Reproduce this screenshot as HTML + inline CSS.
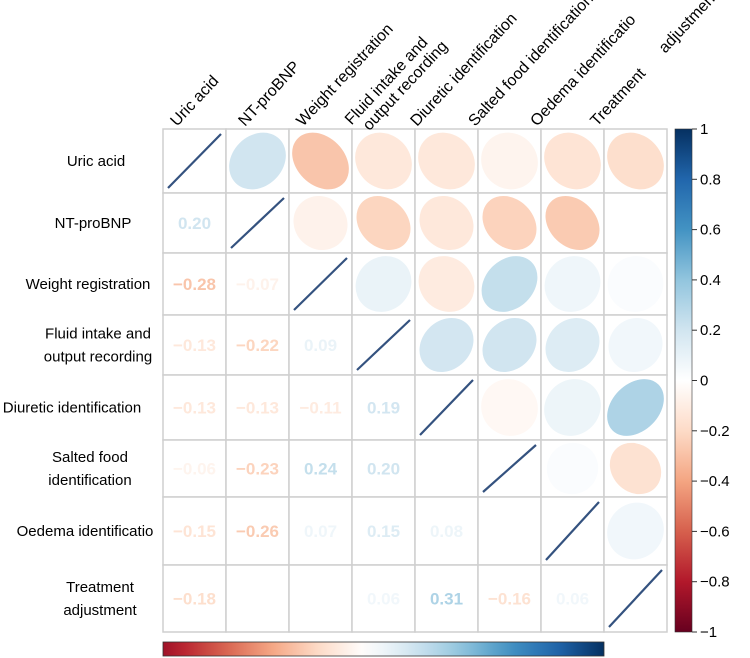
<!DOCTYPE html>
<html><head><meta charset="utf-8"><style>
html,body{margin:0;padding:0;background:#fff;}
svg{display:block;font-family:"Liberation Sans",Arial,sans-serif;}
</style></head><body>
<svg id="chart" width="750" height="658" viewBox="0 0 750 658"></svg>
<script>
const variables = ["Uric acid","NT-proBNP","Weight registration","Fluid intake and output recording","Diuretic identification","Salted food identification","Oedema identificatio","Treatment adjustment"];
// full symmetric correlation values (row i, col j)
const corrRow0 = [1, 0.20, -0.28, -0.13, -0.13, -0.06, -0.15, -0.18];
const corrRow1 = [0.20, 1, -0.07, -0.22, -0.13, -0.23, -0.26, 0.00];
const corrRow2 = [-0.28, -0.07, 1, 0.09, -0.11, 0.24, 0.07, 0.02];
const corrRow3 = [-0.13, -0.22, 0.09, 1, 0.19, 0.20, 0.15, 0.06];
const corrRow4 = [-0.13, -0.13, -0.11, 0.19, 1, -0.04, 0.08, 0.31];
const corrRow5 = [-0.06, -0.23, 0.24, 0.20, -0.04, 1, 0.02, -0.16];
const corrRow6 = [-0.15, -0.26, 0.07, 0.15, 0.08, 0.02, 1, 0.06];
const corrRow7 = [-0.18, 0.00, 0.02, 0.06, 0.31, -0.16, 0.06, 1];
const corr = [corrRow0,corrRow1,corrRow2,corrRow3,corrRow4,corrRow5,corrRow6,corrRow7];
// lower-triangle printed labels (null = blank)
const labelRow1 = ["0.20"];
const labelRow2 = ["−0.28","−0.07"];
const labelRow3 = ["−0.13","−0.22","0.09"];
const labelRow4 = ["−0.13","−0.13","−0.11","0.19"];
const labelRow5 = ["−0.06","−0.23","0.24","0.20",null];
const labelRow6 = ["−0.15","−0.26","0.07","0.15","0.08",null];
const labelRow7 = ["−0.18",null,null,"0.06","0.31","−0.16","0.06"];
const labels = [[],labelRow1,labelRow2,labelRow3,labelRow4,labelRow5,labelRow6,labelRow7];
const colorTicks = ["1","0.8","0.6","0.4","0.2","0","−0.2","−0.4","−0.6","−0.8","−1"];
const colorTickValues = [1,0.8,0.6,0.4,0.2,0,-0.2,-0.4,-0.6,-0.8,-1];

const NS="http://www.w3.org/2000/svg";
const svg=document.getElementById('chart');
function mk(tag,attrs,parent){const e=document.createElementNS(NS,tag);for(const k in attrs)e.setAttribute(k,attrs[k]);(parent||svg).appendChild(e);return e;}

const stops=[[-1,[103,0,31]],[-0.8,[178,24,43]],[-0.6,[214,96,77]],[-0.4,[244,165,130]],[-0.2,[253,219,199]],[0,[255,255,255]],[0.2,[209,229,240]],[0.4,[146,197,222]],[0.6,[67,147,195]],[0.8,[33,102,172]],[1,[5,48,97]]];
function color(v){v=Math.max(-1,Math.min(1,v));for(let i=0;i<stops.length-1;i++){const a=stops[i],b=stops[i+1];if(v<=b[0]){const t=(v-a[0])/(b[0]-a[0]);const c=a[1].map((x,k)=>Math.round(x+(b[1][k]-x)*t));return `rgb(${c[0]},${c[1]},${c[2]})`;}}return 'rgb(5,48,97)';}

const x0=163,cw=63;
const rowB=[129,193,253,315,375,440,497,565,632];
const xCol=j=>x0+j*cw;
const n=variables.length;

for(let i=0;i<n;i++){for(let j=0;j<n;j++){
  const x=xCol(j),y=rowB[i],w=cw,h=rowB[i+1]-rowB[i];
  const g=mk('g',{});
  
  
  mk('rect',{x:x,y:y,width:w,height:h,fill:'#fff',stroke:'#cfcfcf','stroke-width':1.5},g);
  const cx=x+w/2,cy=y+h/2;
  if(i===j){
    const l=mk('line',{x1:x+5,y1:y+h-5,x2:x+w-5,y2:y+5,stroke:'#34527f','stroke-width':2.2},g);
    
    
  } else if(j>i){
    const r=corr[i][j];
    const R=Math.min(w,h)*0.45;
    const a=Math.min(R*Math.sqrt(1+Math.abs(r)),R*1.2),b=R*Math.sqrt(1-Math.abs(r));
    const rot=r>=0?-45:45;
    const e=mk('ellipse',{cx:cx,cy:cy,rx:a,ry:b,fill:color(r),transform:`rotate(${rot} ${cx} ${cy})`},g);
    
    
  } else {
    const lab=labels[i][j];
    if(lab){
      const t=mk('text',{x:cx,y:cy+6,'text-anchor':'middle','font-size':17,'font-weight':'bold',fill:color(corr[i][j])},g);
      t.textContent=lab;
      
      
    }
  }
}}

const rowLabelX=[96,93,88,98,72,90,85,100];
for(let i=0;i<n;i++){
  const cy=(rowB[i]+rowB[i+1])/2;
  const t=mk('text',{x:rowLabelX[i],'text-anchor':'middle','font-size':15,fill:'#000'});
  
  
  let lines=[variables[i]];
  if(i===3)lines=["Fluid intake and","output recording"];
  if(i===5)lines=["Salted food","identification"];
  if(i===7)lines=["Treatment","adjustment"];
  lines.forEach((s,k)=>{const ts=mk('tspan',{x:rowLabelX[i],y:cy+5+(k-(lines.length-1)/2)*23},t);ts.textContent=s;});
}
const colLabelStartX=[177,245,303,353,417,475,537,597];
for(let j=0;j<n;j++){
  const sx=colLabelStartX[j],sy=127;
  const g=mk('g',{transform:`translate(${sx},${sy}) rotate(-47)`});
  
  
  if(j===3){
    const t1=mk('text',{x:0,y:-2,'font-size':16},g);t1.textContent="Fluid intake and";
    const t2=mk('text',{x:8,y:15,'font-size':16},g);t2.textContent="output recording";
  } else if(j===7){
    const t1=mk('text',{x:0,y:0,'font-size':16},g);t1.textContent="Treatment";
    const t2=mk('text',{x:100,y:0,'font-size':16},g);t2.textContent="adjustment";
  } else {
    const t=mk('text',{x:0,y:0,'font-size':16},g);
    t.textContent=variables[j];
  }
}
const defs=mk('defs',{});
const gv=mk('linearGradient',{id:'gv',x1:0,y1:1,x2:0,y2:0},defs);
const gh=mk('linearGradient',{id:'gh',x1:0,y1:0,x2:1,y2:0},defs);
stops.forEach(s=>{mk('stop',{offset:((s[0]+1)/2*100)+'%','stop-color':color(s[0])},gv);});
for(let k=0;k<=20;k++){const v=-0.85+k*(1.85/20);mk('stop',{offset:(k*5)+'%','stop-color':color(v)},gh);}
const cbTop=129,cbBot=632;
const cb=mk('rect',{x:675,y:cbTop,width:17,height:cbBot-cbTop,fill:'url(#gv)',stroke:'#333','stroke-width':0.6});


colorTickValues.forEach((v,k)=>{
  const y=cbTop+(1-v)/2*(cbBot-cbTop);
  mk('line',{x1:692,y1:y,x2:697,y2:y,stroke:'#333','stroke-width':1});
  const t=mk('text',{x:700,y:y+5,'font-size':15,fill:'#000'});
  t.textContent=colorTicks[k];
  
  
});
const hb=mk('rect',{x:163,y:642,width:441,height:14,fill:'url(#gh)',stroke:'#333','stroke-width':0.8});


</script>
</body></html>
